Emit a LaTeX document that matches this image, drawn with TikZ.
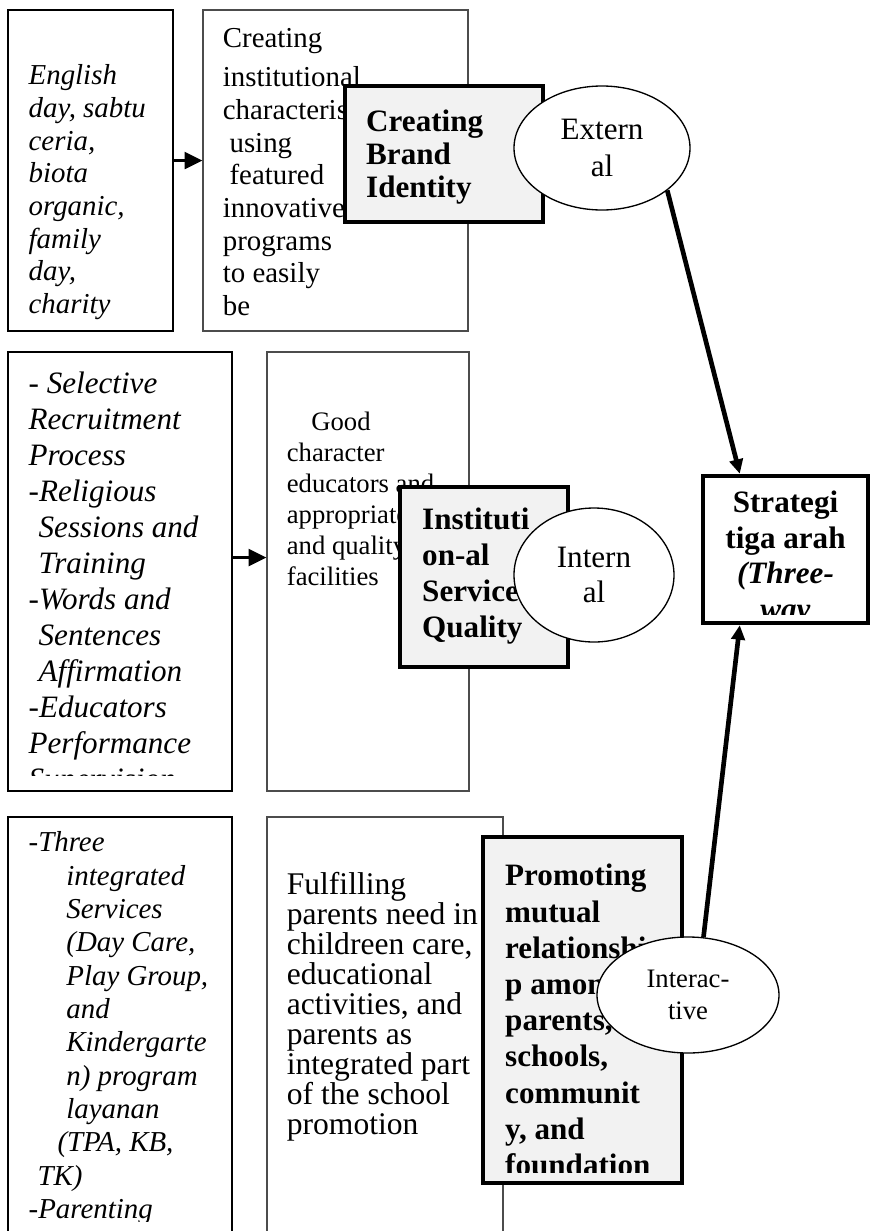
\documentclass[tikz,border=0pt]{standalone}
\usepackage{fontspec}
\setmainfont{Liberation Serif}
\usetikzlibrary{arrows.meta,calc,fit,shapes.geometric}
\definecolor{panelgray}{rgb}{0.95,0.95,0.95}
\tikzset{
  listbox/.style={
    draw=black,
    line width=0.7pt,
    inner sep=0pt
  },
  plainbox/.style={
    draw=black!70,
    line width=0.5pt,
    inner sep=0pt
  },
  keybox/.style={
    draw=black,
    line width=2pt,
    fill=panelgray,
    inner sep=0pt
  },
  goalbox/.style={
    draw=black,
    line width=2pt,
    fill=white,
    inner sep=0pt
  },
  tag/.style={
    ellipse,
    draw=black,
    line width=0.6pt,
    fill=white,
    inner sep=0pt,
    align=center
  },
  boxtext/.style={
    anchor=north west,
    inner sep=0pt,
    align=left
  },
  keytext/.style={
    boxtext,
    font=\bfseries
  },
  smallarrow/.style={
    -{Triangle[length=8pt,width=7.5pt]},
    line width=1.4pt
  },
  bigarrow/.style={
    -{Triangle[length=6.5pt,width=6pt]},
    line width=2.1pt
  }
}

\begin{document}
\begin{tikzpicture}[x=0.45pt,y=-0.45pt]
\useasboundingbox (0,0) rectangle (872,1231);
\clip (0,0) rectangle (872,1231);

% brand identity row
\node[listbox, fit={(8,10) (173,331)}] (tl) {};
\node[boxtext, font=\fontsize{13}{14.7}\selectfont\itshape] (tl-t) at ($(tl.north west)+(21,55)$)
  {English\\day, sabtu\\ceria,\\biota\\organic,\\family\\day,\\charity};
\node[plainbox, fit={(203,10) (468,331)}] (tm) {};
\node[boxtext, font=\fontsize{13}{14.7}\selectfont] (tm-t) at ($(tm.north west)+(20,18)$)
  {Creating\\[3.2pt]institutional\\characteristics\\\hspace*{3pt}using\\\hspace*{3pt}featured\\innovative\\programs\\to easily\\be};
\draw[smallarrow] ($(tl.east)+(0,-10)$) -- ($(tm.west)+(0,-10)$);
\node[keybox, fit={(345,86) (543,222)}] (cb) {};
\node[keytext, font=\fontsize{14}{14.85}\selectfont\bfseries] (cb-t) at ($(cb.north west)+(23,26)$)
  {Creating\\Brand\\Identity};
\node[tag, minimum width=79.2pt, minimum height=55.8pt, font=\fontsize{14}{17}\selectfont] (ext) at (602,148)
  {Extern\\al};

% service quality row
\node[listbox, fit={(8,352) (232,791)}] (ml) {};
\begin{scope}
\clip (ml.north west) rectangle ($(ml.south east)+(0,-16)$);
\node[boxtext, font=\fontsize{14}{16.2}\selectfont\itshape] (ml-t) at ($(ml.north west)+(21,20)$)
  {- Selective\\Recruitment\\Process\\-Religious\\\hspace*{4.5pt}Sessions and\\\hspace*{4.5pt}Training\\-Words and\\\hspace*{4.5pt}Sentences\\\hspace*{4.5pt}Affirmation\\-Educators\\Performance\\Supervision};
\end{scope}
\node[plainbox, fit={(267,352) (469,791)}] (mm) {};
\node[boxtext, font=\fontsize{12}{14}\selectfont] (mm-t) at ($(mm.north west)+(20,60)$)
  {\hspace*{11pt}Good\\character\\educators and\\appropriate\\and quality\\facilities};
\draw[smallarrow] ($(ml.east)+(0,-14)$) -- ($(mm.west)+(0,-14)$);
\node[keybox, fit={(400,487) (568,667)}] (ins) {};
\node[keytext, font=\fontsize{14}{16.1}\selectfont\bfseries] (ins-t) at ($(ins.north west)+(24,23)$)
  {Instituti\\on-al\\Service\\Quality};
\node[tag, minimum width=72pt, minimum height=60.3pt, font=\fontsize{14}{16}\selectfont] (int) at (594,575)
  {Intern\\al};

% promotion row
\node[listbox, fit={(8,817) (232,1260)}] (bl) {};
\begin{scope}
\clip (bl.north west) rectangle (232,1221);
\node[boxtext, font=\fontsize{13}{15}\selectfont\itshape] (bl-t) at ($(bl.north west)+(21,15)$)
  {-Three\\\hspace*{17pt}integrated\\\hspace*{17pt}Services\\\hspace*{17pt}(Day Care,\\\hspace*{17pt}Play Group,\\\hspace*{17pt}and\\\hspace*{17pt}Kindergarte\\\hspace*{17pt}n) program\\\hspace*{17pt}layanan\\\hspace*{13pt}(TPA, KB,\\\hspace*{4pt}TK)\\-Parenting};
\end{scope}
\node[plainbox, fit={(267,817) (503,1260)}] (bm) {};
\node[boxtext, font=\fontsize{14.2}{13.5}\selectfont] (bm-t) at ($(bm.north west)+(20,55)$)
  {Fulfilling\\parents need in\\childreen care,\\educational\\activities, and\\parents as\\integrated part\\of the school\\promotion};
\node[keybox, fit={(483,837) (682,1183)}] (pm) {};
\begin{scope}
\clip (pm.north west) rectangle ($(pm.south east)+(0,-13)$);
\node[keytext, font=\fontsize{14}{16.3}\selectfont\bfseries] (pm-t) at ($(pm.north west)+(24,29)$)
  {Promoting\\mutual\\relationshi\\p among\\parents,\\schools,\\communit\\y, and\\foundation};
\end{scope}
\node[tag, minimum width=81.9pt, minimum height=52.2pt, font=\fontsize{12}{14.4}\selectfont] (ia) at (688,995)
  {Interac-\\tive};

% three-way strategy
\node[goalbox, fit={(703,476) (868,623)}] (str) {};
\begin{scope}
\clip (str.north west) rectangle ($(str.south east)+(0,-11)$);
\node[anchor=north, inner sep=0pt, align=center, font=\fontsize{14}{16}\selectfont\bfseries] (str-t) at ($(str.north)+(0,17)$)
  {Strategi\\tiga arah\\\textit{(Three-}\\\textit{way}};
\end{scope}
\draw[bigarrow] (ext.-33) -- ($(str.north west)+(39,0)$);
\draw[bigarrow] (ia.75) -- ($(str.south west)+(39,0)$);
\end{tikzpicture}
\end{document}
